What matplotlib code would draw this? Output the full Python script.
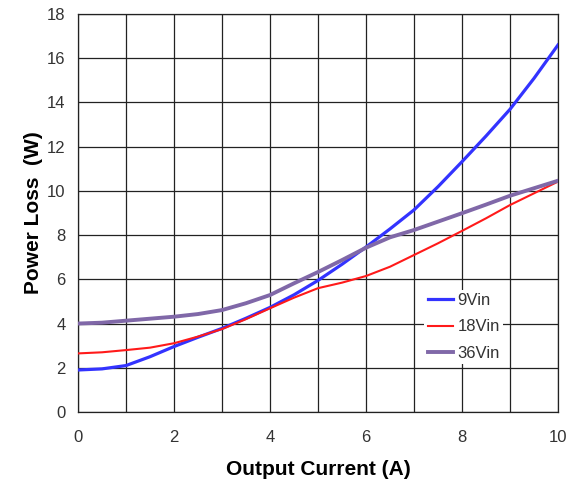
import numpy as np
import matplotlib.pyplot as plt

plt.rcParams['font.family'] = ['Liberation Sans', 'DejaVu Sans']

# output current (A), read every 0.5 A
current = [0, 0.5, 1, 1.5, 2, 2.5, 3, 3.5, 4, 4.5, 5, 5.5, 6, 6.5, 7, 7.5, 8, 8.5, 9, 9.5, 10]

loss_9v = [1.9, 1.95, 2.1, 2.5, 2.96, 3.38, 3.78, 4.24, 4.73, 5.3, 5.95,
           6.68, 7.46, 8.28, 9.14, 10.19, 11.32, 12.48, 13.69, 15.09, 16.6]
loss_18v = [2.65, 2.7, 2.8, 2.91, 3.11, 3.41, 3.75, 4.2, 4.69, 5.17, 5.6,
            5.85, 6.15, 6.57, 7.1, 7.63, 8.19, 8.76, 9.36, 9.89, 10.42]
loss_36v = [4.0, 4.04, 4.13, 4.22, 4.31, 4.43, 4.61, 4.92, 5.29, 5.82, 6.33,
            6.87, 7.43, 7.9, 8.23, 8.61, 8.99, 9.38, 9.78, 10.12, 10.46]

fig = plt.figure(figsize=(5.82, 4.83), dpi=100)
ax = fig.add_axes([78/582, 71/483, 480/582, 398/483])

ax.plot(current, loss_9v, color='#3333ff', lw=2.3, label='9Vin', zorder=3)
ax.plot(current, loss_18v, color='#ff1a1a', lw=1.5, label='18Vin', zorder=3)
ax.plot(current, loss_36v, color='#8068a8', lw=2.8, label='36Vin', zorder=3)

ax.set_xlim(0, 10)
ax.set_ylim(0, 18)
ax.set_xticks(np.arange(0, 11, 2))
ax.set_xticks(np.arange(0, 11, 1), minor=True)
ax.set_yticks(np.arange(0, 19, 2))
ax.grid(True, which='both', color='#222222', lw=0.9)
ax.tick_params(which='both', length=0, labelsize=12, colors='#333333')
ax.tick_params(axis='x', pad=13)
ax.tick_params(axis='y', pad=9)
for s in ax.spines.values():
    s.set_color('#222222')
    s.set_linewidth(0.9)

ax.set_xlabel('Output Current (A)', fontsize=15, fontweight='bold', labelpad=11)
ax.set_ylabel('Power Loss  (W)', fontsize=15, fontweight='bold', labelpad=3)

# white box behind the legend, no border
leg = ax.legend(loc='upper left', bbox_to_anchor=(0.704, 0.328), frameon=True,
                facecolor='white', edgecolor='none', framealpha=1, fancybox=False,
                borderpad=0.2, fontsize=12, handlelength=1.55, handletextpad=0.25,
                labelspacing=0.68, labelcolor='#333333')

fig.savefig('out.png', dpi=100)
